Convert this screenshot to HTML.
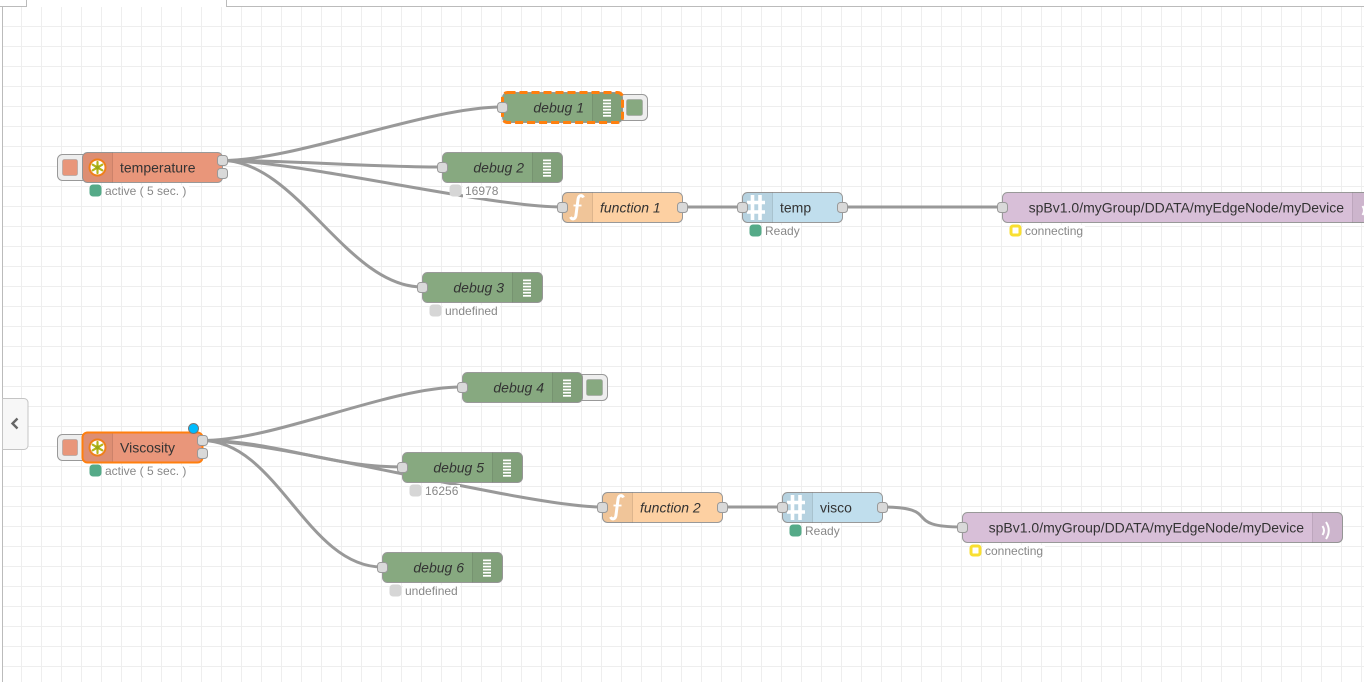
<!DOCTYPE html>
<html><head><meta charset="utf-8">
<style>
html,body{margin:0;padding:0;background:#fff;overflow:hidden;}
svg{display:block;}
text{font-family:"Liberation Sans",Arial,sans-serif;}
.lbl{font-size:14px;fill:#333;}
.it{font-style:italic;}
.st{font-size:12px;fill:#888;}
.port{fill:#d9d9d9;stroke:#999;stroke-width:1;}
.node{stroke:#999;stroke-width:1;}
.shade{fill:#000;fill-opacity:0.05;}
.sep{stroke:#000;stroke-opacity:0.1;stroke-width:1;}
.wire{fill:none;stroke:#999;stroke-width:3;}
.btn{fill:#eee;stroke:#999;stroke-width:1;}
.bar{fill:#fff;}
.ico{fill:none;stroke:#fff;}
</style></head><body>
<svg width="1364" height="682" viewBox="0 0 1364 682" xmlns="http://www.w3.org/2000/svg">
<defs>
<pattern id="g" x="1" y="6" width="20" height="20" patternUnits="userSpaceOnUse">
<rect x="0" y="0" width="20" height="1" fill="#eee"/>
<rect x="0" y="0" width="1" height="20" fill="#eee"/>
</pattern>
</defs>
<rect x="0" y="0" width="1364" height="682" fill="#fff"/>
<rect x="2" y="7" width="1362" height="675" fill="url(#g)"/>
<!-- tab / borders -->
<rect x="0" y="6" width="27" height="1" fill="#bbb"/>
<rect x="26" y="0" width="1" height="7" fill="#bbb"/>
<rect x="226" y="0" width="1" height="7" fill="#bbb"/>
<rect x="226" y="6" width="1138" height="1" fill="#bbb"/>
<rect x="2" y="6" width="1" height="676" fill="#bbb"/>

<!-- wires group 1 -->
<path class="wire" d="M222 160.5 C297 160.5 427 107 502 107"/>
<path class="wire" d="M222 160.5 C297 160.5 367 167 442 167"/>
<path class="wire" d="M222 160.5 C297 160.5 487 207 562 207"/>
<path class="wire" d="M222 160.5 C297 160.5 347 287 422 287"/>
<path class="wire" d="M682 207 L742 207"/>
<path class="wire" d="M842 207 L1002 207"/>
<!-- wires group 2 -->
<path class="wire" d="M202 440.5 C277 440.5 387 387 462 387"/>
<path class="wire" d="M202 440.5 C277 440.5 327 467 402 467"/>
<path class="wire" d="M202 440.5 C277 440.5 527 507 602 507"/>
<path class="wire" d="M202 440.5 C277 440.5 307 567 382 567"/>
<path class="wire" d="M722 507 L782 507"/>
<path class="wire" d="M882 507 C943.85 507 900.15 527 962 527"/>

<!-- temperature inject -->
<g transform="translate(82,152)">
 <rect class="btn" x="-24.5" y="2.5" width="32" height="26" rx="5"/>
 <rect x="-19.5" y="7.5" width="15" height="16" rx="2" fill="#e9967a" stroke="#999" stroke-opacity="0.5"/>
 <rect class="node" x="0.5" y="0.5" width="140" height="30" rx="5" fill="#e9967a"/>
 <path class="shade" d="M5.5 0.5H30.5V30.5H5.5A5 5 0 0 1 0.5 25.5V5.5A5 5 0 0 1 5.5 0.5Z"/>
 <line class="sep" x1="30.5" y1="0.5" x2="30.5" y2="30.5"/>
 <circle cx="15.5" cy="15.5" r="8" fill="#fff" stroke="#ef7f1a" stroke-width="2"/>
 <g stroke="#b3b41a" stroke-width="2.2" stroke-linecap="round">
  <line x1="15.5" y1="10" x2="15.5" y2="21"/>
  <line x1="10.7" y1="12.7" x2="20.3" y2="18.3"/>
  <line x1="10.7" y1="18.3" x2="20.3" y2="12.7"/>
 </g>
 <circle cx="15.5" cy="15.5" r="2" fill="#9aa818"/>
 <text class="lbl" x="38" y="20.5">temperature</text>
 <rect class="port" x="135.5" y="3.5" width="10" height="10" rx="3"/>
 <rect class="port" x="135.5" y="16.5" width="10" height="10" rx="3"/>
 <rect x="21" y="33" width="86" height="13" fill="#fff"/>
 <rect x="9" y="34" width="9" height="9" rx="2" fill="#5a8" stroke="#5a8" stroke-width="3"/>
 <text class="st" x="23" y="43">active ( 5 sec. )</text>
</g>

<!-- debug 1 -->
<g transform="translate(502,92)">
 <rect class="btn" x="113.5" y="2.5" width="32" height="26" rx="5"/>
 <rect x="124.5" y="7.5" width="16" height="16" rx="2" fill="#87a980" stroke="#999" stroke-opacity="0.5"/>
 <rect class="node" x="0.5" y="0.5" width="120" height="30" rx="5" fill="#87a980"/>
 <path class="shade" d="M90.5 0.5H115.5A5 5 0 0 1 120.5 5.5V25.5A5 5 0 0 1 115.5 30.5H90.5Z"/>
 <line class="sep" x1="90.5" y1="0.5" x2="90.5" y2="30.5"/>
 <rect class="bar" x="101" y="7.5" width="8" height="1.7"/><rect class="bar" x="101" y="10.6" width="8" height="1.7"/><rect class="bar" x="101" y="13.7" width="8" height="1.7"/><rect class="bar" x="101" y="16.8" width="8" height="1.7"/><rect class="bar" x="101" y="19.9" width="8" height="1.7"/><rect class="bar" x="101" y="23" width="8" height="1.7"/>
 <rect x="0.5" y="0.5" width="120" height="30" rx="5" fill="none" stroke="#ff7f0e" stroke-width="3" stroke-dasharray="8,4"/>
 <text class="lbl it" x="82" y="20.5" text-anchor="end">debug 1</text>
 <rect class="port" x="-4.5" y="10.5" width="10" height="10" rx="3"/>
</g>

<!-- debug 2 -->
<g transform="translate(442,152)">
 <rect class="node" x="0.5" y="0.5" width="120" height="30" rx="5" fill="#87a980"/>
 <path class="shade" d="M90.5 0.5H115.5A5 5 0 0 1 120.5 5.5V25.5A5 5 0 0 1 115.5 30.5H90.5Z"/>
 <line class="sep" x1="90.5" y1="0.5" x2="90.5" y2="30.5"/>
 <rect class="bar" x="101" y="7.5" width="8" height="1.7"/><rect class="bar" x="101" y="10.6" width="8" height="1.7"/><rect class="bar" x="101" y="13.7" width="8" height="1.7"/><rect class="bar" x="101" y="16.8" width="8" height="1.7"/><rect class="bar" x="101" y="19.9" width="8" height="1.7"/><rect class="bar" x="101" y="23" width="8" height="1.7"/>
 <text class="lbl it" x="82" y="20.5" text-anchor="end">debug 2</text>
 <rect class="port" x="-4.5" y="10.5" width="10" height="10" rx="3"/>
 <rect x="21" y="33" width="37" height="13" fill="#fff"/>
 <rect x="9" y="34" width="9" height="9" rx="2" fill="#d6d6d6" stroke="#d6d6d6" stroke-width="3"/>
 <text class="st" x="23" y="43">16978</text>
</g>

<!-- function 1 -->
<g transform="translate(562,192)">
 <rect class="node" x="0.5" y="0.5" width="120" height="30" rx="5" fill="#fdd0a2"/>
 <path class="shade" d="M5.5 0.5H30.5V30.5H5.5A5 5 0 0 1 0.5 25.5V5.5A5 5 0 0 1 5.5 0.5Z"/>
 <line class="sep" x1="30.5" y1="0.5" x2="30.5" y2="30.5"/>
 <path class="ico" stroke-width="3" d="M21.5 5.5 C20 2.5 16.5 3 16 7.5 L14 23 C13.5 27.5 10 28 8.5 25"/>
 <path class="ico" stroke-width="1.8" d="M11.5 13.5 H19.5"/>
 <text class="lbl it" x="38" y="20.5">function 1</text>
 <rect class="port" x="-4.5" y="10.5" width="10" height="10" rx="3"/>
 <rect class="port" x="115.5" y="10.5" width="10" height="10" rx="3"/>
</g>

<!-- temp -->
<g transform="translate(742,192)">
 <rect class="node" x="0.5" y="0.5" width="100" height="30" rx="5" fill="#c0deed"/>
 <path class="shade" d="M5.5 0.5H30.5V30.5H5.5A5 5 0 0 1 0.5 25.5V5.5A5 5 0 0 1 5.5 0.5Z"/>
 <line class="sep" x1="30.5" y1="0.5" x2="30.5" y2="30.5"/>
 <path class="ico" stroke-width="3.6" d="M10.5 3 V28 M18 3 V28 M5 10.5 H23 M5 20 H23"/>
 <text class="lbl" x="38" y="20.5">temp</text>
 <rect class="port" x="-4.5" y="10.5" width="10" height="10" rx="3"/>
 <rect class="port" x="95.5" y="10.5" width="10" height="10" rx="3"/>
 <rect x="21" y="33" width="38" height="13" fill="#fff"/>
 <rect x="9" y="34" width="9" height="9" rx="2" fill="#5a8" stroke="#5a8" stroke-width="3"/>
 <text class="st" x="23" y="43">Ready</text>
</g>

<!-- spB top -->
<g transform="translate(1002,192)">
 <rect class="node" x="0.5" y="0.5" width="380" height="30" rx="5" fill="#d8bfd8"/>
 <path class="shade" d="M350.5 0.5H375.5A5 5 0 0 1 380.5 5.5V25.5A5 5 0 0 1 375.5 30.5H350.5Z"/>
 <line class="sep" x1="350.5" y1="0.5" x2="350.5" y2="30.5"/>
 <path class="ico" stroke-width="2" d="M360.5 14 Q363.5 18.5 360.5 23 M364 10 Q369.5 18.5 364 27"/>
 <text class="lbl" x="342" y="20.5" text-anchor="end">spBv1.0/myGroup/DDATA/myEdgeNode/myDevice</text>
 <rect class="port" x="-4.5" y="10.5" width="10" height="10" rx="3"/>
 <rect x="21" y="33" width="62" height="13" fill="#fff"/>
 <rect x="9" y="34" width="9" height="9" rx="2" fill="#fff" stroke="#F9DF31" stroke-width="3"/>
 <text class="st" x="23" y="43">connecting</text>
</g>

<!-- debug 3 -->
<g transform="translate(422,272)">
 <rect class="node" x="0.5" y="0.5" width="120" height="30" rx="5" fill="#87a980"/>
 <path class="shade" d="M90.5 0.5H115.5A5 5 0 0 1 120.5 5.5V25.5A5 5 0 0 1 115.5 30.5H90.5Z"/>
 <line class="sep" x1="90.5" y1="0.5" x2="90.5" y2="30.5"/>
 <rect class="bar" x="101" y="7.5" width="8" height="1.7"/><rect class="bar" x="101" y="10.6" width="8" height="1.7"/><rect class="bar" x="101" y="13.7" width="8" height="1.7"/><rect class="bar" x="101" y="16.8" width="8" height="1.7"/><rect class="bar" x="101" y="19.9" width="8" height="1.7"/><rect class="bar" x="101" y="23" width="8" height="1.7"/>
 <text class="lbl it" x="82" y="20.5" text-anchor="end">debug 3</text>
 <rect class="port" x="-4.5" y="10.5" width="10" height="10" rx="3"/>
 <rect x="21" y="33" width="57" height="13" fill="#fff"/>
 <rect x="9" y="34" width="9" height="9" rx="2" fill="#d6d6d6" stroke="#d6d6d6" stroke-width="3"/>
 <text class="st" x="23" y="43">undefined</text>
</g>

<!-- debug 4 -->
<g transform="translate(462,372)">
 <rect class="btn" x="113.5" y="2.5" width="32" height="26" rx="5"/>
 <rect x="124.5" y="7.5" width="16" height="16" rx="2" fill="#87a980" stroke="#999" stroke-opacity="0.5"/>
 <rect class="node" x="0.5" y="0.5" width="120" height="30" rx="5" fill="#87a980"/>
 <path class="shade" d="M90.5 0.5H115.5A5 5 0 0 1 120.5 5.5V25.5A5 5 0 0 1 115.5 30.5H90.5Z"/>
 <line class="sep" x1="90.5" y1="0.5" x2="90.5" y2="30.5"/>
 <rect class="bar" x="101" y="7.5" width="8" height="1.7"/><rect class="bar" x="101" y="10.6" width="8" height="1.7"/><rect class="bar" x="101" y="13.7" width="8" height="1.7"/><rect class="bar" x="101" y="16.8" width="8" height="1.7"/><rect class="bar" x="101" y="19.9" width="8" height="1.7"/><rect class="bar" x="101" y="23" width="8" height="1.7"/>
 <text class="lbl it" x="82" y="20.5" text-anchor="end">debug 4</text>
 <rect class="port" x="-4.5" y="10.5" width="10" height="10" rx="3"/>
</g>

<!-- Viscosity inject -->
<g transform="translate(82,432)">
 <rect class="btn" x="-24.5" y="2.5" width="32" height="26" rx="5"/>
 <rect x="-19.5" y="7.5" width="15" height="16" rx="2" fill="#e9967a" stroke="#999" stroke-opacity="0.5"/>
 <rect x="0.5" y="0.5" width="120" height="30" rx="5" fill="#e9967a" stroke="#ff7f0e" stroke-width="2"/>
 <path class="shade" d="M5.5 1.5H30.5V29.5H5.5A4 4 0 0 1 1.5 25.5V5.5A4 4 0 0 1 5.5 1.5Z"/>
 <line class="sep" x1="30.5" y1="1.5" x2="30.5" y2="29.5"/>
 <circle cx="15.5" cy="15.5" r="8" fill="#fff" stroke="#ef7f1a" stroke-width="2"/>
 <g stroke="#b3b41a" stroke-width="2.2" stroke-linecap="round">
  <line x1="15.5" y1="10" x2="15.5" y2="21"/>
  <line x1="10.7" y1="12.7" x2="20.3" y2="18.3"/>
  <line x1="10.7" y1="18.3" x2="20.3" y2="12.7"/>
 </g>
 <circle cx="15.5" cy="15.5" r="2" fill="#9aa818"/>
 <text class="lbl" x="38" y="20.5">Viscosity</text>
 <rect class="port" x="115.5" y="3.5" width="10" height="10" rx="3"/>
 <rect class="port" x="115.5" y="16.5" width="10" height="10" rx="3"/>
 <circle cx="111.5" cy="-3.5" r="5" fill="#00bcff" stroke="#777" stroke-width="1"/>
 <rect x="21" y="33" width="86" height="13" fill="#fff"/>
 <rect x="9" y="34" width="9" height="9" rx="2" fill="#5a8" stroke="#5a8" stroke-width="3"/>
 <text class="st" x="23" y="43">active ( 5 sec. )</text>
</g>

<!-- debug 5 -->
<g transform="translate(402,452)">
 <rect class="node" x="0.5" y="0.5" width="120" height="30" rx="5" fill="#87a980"/>
 <path class="shade" d="M90.5 0.5H115.5A5 5 0 0 1 120.5 5.5V25.5A5 5 0 0 1 115.5 30.5H90.5Z"/>
 <line class="sep" x1="90.5" y1="0.5" x2="90.5" y2="30.5"/>
 <rect class="bar" x="101" y="7.5" width="8" height="1.7"/><rect class="bar" x="101" y="10.6" width="8" height="1.7"/><rect class="bar" x="101" y="13.7" width="8" height="1.7"/><rect class="bar" x="101" y="16.8" width="8" height="1.7"/><rect class="bar" x="101" y="19.9" width="8" height="1.7"/><rect class="bar" x="101" y="23" width="8" height="1.7"/>
 <text class="lbl it" x="82" y="20.5" text-anchor="end">debug 5</text>
 <rect class="port" x="-4.5" y="10.5" width="10" height="10" rx="3"/>
 <rect x="21" y="33" width="37" height="13" fill="#fff"/>
 <rect x="9" y="34" width="9" height="9" rx="2" fill="#d6d6d6" stroke="#d6d6d6" stroke-width="3"/>
 <text class="st" x="23" y="43">16256</text>
</g>

<!-- function 2 -->
<g transform="translate(602,492)">
 <rect class="node" x="0.5" y="0.5" width="120" height="30" rx="5" fill="#fdd0a2"/>
 <path class="shade" d="M5.5 0.5H30.5V30.5H5.5A5 5 0 0 1 0.5 25.5V5.5A5 5 0 0 1 5.5 0.5Z"/>
 <line class="sep" x1="30.5" y1="0.5" x2="30.5" y2="30.5"/>
 <path class="ico" stroke-width="3" d="M21.5 5.5 C20 2.5 16.5 3 16 7.5 L14 23 C13.5 27.5 10 28 8.5 25"/>
 <path class="ico" stroke-width="1.8" d="M11.5 13.5 H19.5"/>
 <text class="lbl it" x="38" y="20.5">function 2</text>
 <rect class="port" x="-4.5" y="10.5" width="10" height="10" rx="3"/>
 <rect class="port" x="115.5" y="10.5" width="10" height="10" rx="3"/>
</g>

<!-- visco -->
<g transform="translate(782,492)">
 <rect class="node" x="0.5" y="0.5" width="100" height="30" rx="5" fill="#c0deed"/>
 <path class="shade" d="M5.5 0.5H30.5V30.5H5.5A5 5 0 0 1 0.5 25.5V5.5A5 5 0 0 1 5.5 0.5Z"/>
 <line class="sep" x1="30.5" y1="0.5" x2="30.5" y2="30.5"/>
 <path class="ico" stroke-width="3.6" d="M10.5 3 V28 M18 3 V28 M5 10.5 H23 M5 20 H23"/>
 <text class="lbl" x="38" y="20.5">visco</text>
 <rect class="port" x="-4.5" y="10.5" width="10" height="10" rx="3"/>
 <rect class="port" x="95.5" y="10.5" width="10" height="10" rx="3"/>
 <rect x="21" y="33" width="38" height="13" fill="#fff"/>
 <rect x="9" y="34" width="9" height="9" rx="2" fill="#5a8" stroke="#5a8" stroke-width="3"/>
 <text class="st" x="23" y="43">Ready</text>
</g>

<!-- spB bottom -->
<g transform="translate(962,512)">
 <rect class="node" x="0.5" y="0.5" width="380" height="30" rx="5" fill="#d8bfd8"/>
 <path class="shade" d="M350.5 0.5H375.5A5 5 0 0 1 380.5 5.5V25.5A5 5 0 0 1 375.5 30.5H350.5Z"/>
 <line class="sep" x1="350.5" y1="0.5" x2="350.5" y2="30.5"/>
 <path class="ico" stroke-width="2" d="M360.5 14 Q363.5 18.5 360.5 23 M364 10 Q369.5 18.5 364 27"/>
 <text class="lbl" x="342" y="20.5" text-anchor="end">spBv1.0/myGroup/DDATA/myEdgeNode/myDevice</text>
 <rect class="port" x="-4.5" y="10.5" width="10" height="10" rx="3"/>
 <rect x="21" y="33" width="62" height="13" fill="#fff"/>
 <rect x="9" y="34" width="9" height="9" rx="2" fill="#fff" stroke="#F9DF31" stroke-width="3"/>
 <text class="st" x="23" y="43">connecting</text>
</g>

<!-- debug 6 -->
<g transform="translate(382,552)">
 <rect class="node" x="0.5" y="0.5" width="120" height="30" rx="5" fill="#87a980"/>
 <path class="shade" d="M90.5 0.5H115.5A5 5 0 0 1 120.5 5.5V25.5A5 5 0 0 1 115.5 30.5H90.5Z"/>
 <line class="sep" x1="90.5" y1="0.5" x2="90.5" y2="30.5"/>
 <rect class="bar" x="101" y="7.5" width="8" height="1.7"/><rect class="bar" x="101" y="10.6" width="8" height="1.7"/><rect class="bar" x="101" y="13.7" width="8" height="1.7"/><rect class="bar" x="101" y="16.8" width="8" height="1.7"/><rect class="bar" x="101" y="19.9" width="8" height="1.7"/><rect class="bar" x="101" y="23" width="8" height="1.7"/>
 <text class="lbl it" x="82" y="20.5" text-anchor="end">debug 6</text>
 <rect class="port" x="-4.5" y="10.5" width="10" height="10" rx="3"/>
 <rect x="21" y="33" width="57" height="13" fill="#fff"/>
 <rect x="9" y="34" width="9" height="9" rx="2" fill="#d6d6d6" stroke="#d6d6d6" stroke-width="3"/>
 <text class="st" x="23" y="43">undefined</text>
</g>

<!-- sidebar toggle -->
<path d="M2.5 398.5 H24 A4 4 0 0 1 28 402.5 V445.5 A4 4 0 0 1 24 449.5 H2.5 Z" fill="#f7f7f7" stroke="#c4c4c4" stroke-width="1"/>
<path d="M17.5 418.5 L12.5 423.5 L17.5 428.5" fill="none" stroke="#666" stroke-width="2.4"/>
</svg>
</body></html>
